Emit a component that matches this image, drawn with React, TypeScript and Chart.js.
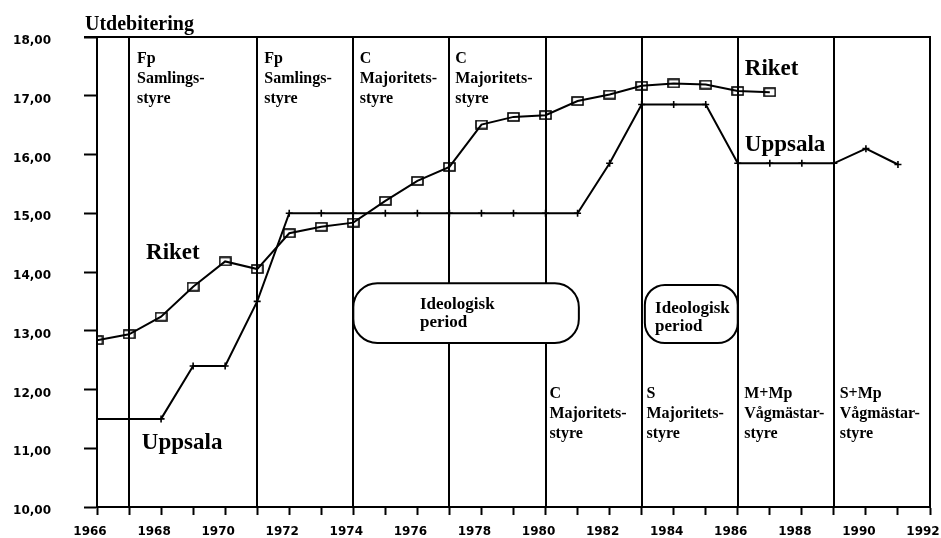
import React, { useEffect, useRef } from 'react';
import { Chart, registerables } from 'chart.js';

Chart.register(...registerables);

// ---- Data ----
const riketYears = [1966, 1967, 1968, 1969, 1970, 1971, 1972, 1973, 1974, 1975, 1976, 1977, 1978, 1979, 1980, 1981, 1982, 1983, 1984, 1985, 1986, 1987];
const riketValues = [12.84, 12.94, 13.24, 13.75, 14.18, 14.05, 14.66, 14.77, 14.84, 15.21, 15.55, 15.79, 16.51, 16.64, 16.67, 16.91, 17.02, 17.17, 17.21, 17.19, 17.08, 17.06];

const uppsalaYears = [1966, 1967, 1968, 1969, 1970, 1971, 1972, 1973, 1974, 1975, 1976, 1977, 1978, 1979, 1980, 1981, 1982, 1983, 1984, 1985, 1986, 1987, 1988, 1989, 1990, 1991];
const uppsalaValues = [11.5, 11.5, 11.5, 12.4, 12.4, 13.5, 15.0, 15.0, 15.0, 15.0, 15.0, 15.0, 15.0, 15.0, 15.0, 15.0, 15.85, 16.85, 16.85, 16.85, 15.85, 15.85, 15.85, 15.85, 16.1, 15.83];

const periodBoundaries = [1967, 1971, 1974, 1977, 1980, 1983, 1986, 1989];

const yTickValues = [10, 11, 12, 13, 14, 15, 16, 17, 18];
const xLabelYears = [1966, 1968, 1970, 1972, 1974, 1976, 1978, 1980, 1982, 1984, 1986, 1988, 1990, 1992];

const periodTexts = [
  { x: 1967.25, y: 17.56, lines: ['Fp', 'Samlings-', 'styre'] },
  { x: 1971.22, y: 17.56, lines: ['Fp', 'Samlings-', 'styre'] },
  { x: 1974.2, y: 17.56, lines: ['C', 'Majoritets-', 'styre'] },
  { x: 1977.18, y: 17.56, lines: ['C', 'Majoritets-', 'styre'] },
  { x: 1980.12, y: 11.85, lines: ['C', 'Majoritets-', 'styre'] },
  { x: 1983.15, y: 11.85, lines: ['S', 'Majoritets-', 'styre'] },
  { x: 1986.2, y: 11.85, lines: ['M+Mp', 'Vågmästar-', 'styre'] },
  { x: 1989.18, y: 11.85, lines: ['S+Mp', 'Vågmästar-', 'styre'] },
];

const seriesLabels = [
  { text: 'Riket', x: 1967.53, y: 14.22 },
  { text: 'Uppsala', x: 1967.4, y: 10.99 },
  { text: 'Riket', x: 1986.22, y: 17.35 },
  { text: 'Uppsala', x: 1986.22, y: 16.06 },
];

const ideologyBoxes = [
  { x0: 1974.0, x1: 1981.04, y0: 13.81, y1: 12.79, textX: 1976.08, textY: 13.37, radius: 24 },
  { x0: 1983.1, x1: 1986.0, y0: 13.78, y1: 12.79, textX: 1983.42, textY: 13.3, radius: 20 },
];
const ideologyLines = ['Ideologisk', 'period'];

const yTitle = 'Utdebitering';

const SERIF = '"Liberation Serif", "Times New Roman", serif';
const SANS = '"DejaVu Sans", sans-serif';

function makeSquareMarker(): HTMLCanvasElement {
  const c = document.createElement('canvas');
  c.width = 13;
  c.height = 10;
  const g = c.getContext('2d')!;
  g.strokeStyle = '#000';
  g.lineWidth = 1.6;
  g.strokeRect(1, 1, 11, 8);
  return c;
}

const overlayPlugin = {
  id: 'overlay',
  beforeDatasetsDraw(chart: any) {
    const { ctx, chartArea: a, scales } = chart;
    const x = scales.x;
    const y = scales.y;
    ctx.save();
    ctx.strokeStyle = '#000';
    ctx.lineWidth = 2;
    periodBoundaries.forEach((yr) => {
      const px = Math.round(x.getPixelForValue(yr));
      ctx.beginPath();
      ctx.moveTo(px, a.top);
      ctx.lineTo(px, a.bottom);
      ctx.stroke();
    });
    ctx.beginPath();
    ctx.moveTo(a.left - 13, a.top);
    ctx.lineTo(a.right, a.top);
    ctx.lineTo(a.right, a.bottom);
    ctx.stroke();

    ideologyBoxes.forEach((b) => {
      const l = x.getPixelForValue(b.x0);
      const r = x.getPixelForValue(b.x1);
      const t = y.getPixelForValue(b.y0);
      const bt = y.getPixelForValue(b.y1);
      ctx.beginPath();
      ctx.roundRect(l, t, r - l, bt - t, b.radius);
      ctx.fillStyle = '#fff';
      ctx.fill();
      ctx.lineWidth = 2;
      ctx.stroke();
      ctx.fillStyle = '#000';
      ctx.font = `bold 17px ${SERIF}`;
      ctx.textAlign = 'left';
      ctx.textBaseline = 'alphabetic';
      const tx = x.getPixelForValue(b.textX);
      const ty = y.getPixelForValue(b.textY);
      ideologyLines.forEach((ln, i) => ctx.fillText(ln, tx, ty + i * 18));
    });
    ctx.restore();
  },
  afterDraw(chart: any) {
    const { ctx, chartArea: a, scales } = chart;
    const x = scales.x;
    const y = scales.y;
    ctx.save();
    ctx.fillStyle = '#000';
    ctx.textAlign = 'left';
    ctx.textBaseline = 'alphabetic';

    ctx.font = `bold 16px ${SERIF}`;
    periodTexts.forEach((p) => {
      const px = x.getPixelForValue(p.x);
      const py = y.getPixelForValue(p.y);
      p.lines.forEach((ln, i) => ctx.fillText(ln, px, py + i * 20));
    });

    ctx.font = `bold 23px ${SERIF}`;
    seriesLabels.forEach((s) => {
      ctx.fillText(s.text, x.getPixelForValue(s.x), y.getPixelForValue(s.y));
    });

    ctx.font = `bold 20px ${SERIF}`;
    ctx.fillText(yTitle, a.left - 12, a.top - 7);
    ctx.restore();
  },
};

export default function App() {
  const ref = useRef<HTMLCanvasElement | null>(null);

  useEffect(() => {
    if (!ref.current) return;
    const marker = makeSquareMarker();
    const chart = new Chart(ref.current, {
      type: 'line',
      data: {
        datasets: [
          {
            label: 'Riket',
            data: riketYears.map((yr, i) => ({ x: yr, y: riketValues[i] })),
            borderColor: '#000',
            borderWidth: 2,
            pointStyle: marker as any,
            pointRadius: 5,
            pointBorderColor: '#000',
            pointBackgroundColor: 'rgba(0,0,0,0)',
            tension: 0,
          },
          {
            label: 'Uppsala',
            data: uppsalaYears.map((yr, i) => ({ x: yr, y: uppsalaValues[i] })),
            borderColor: '#000',
            borderWidth: 2,
            pointStyle: 'cross',
            pointRadius: 3.5,
            pointBorderWidth: 1.6,
            pointBorderColor: '#000',
            tension: 0,
          },
        ],
      },
      options: {
        animation: false,
        responsive: false,
        maintainAspectRatio: false,
        devicePixelRatio: 1,
        layout: { padding: { left: 0, right: 11, top: 37, bottom: 0 } },
        plugins: {
          legend: { display: false },
          tooltip: { enabled: false },
        },
        scales: {
          x: {
            type: 'linear',
            min: 1966,
            max: 1992,
            afterBuildTicks: (scale: any) => {
              const t = [];
              for (let v = 1966; v <= 1992; v++) t.push({ value: v });
              scale.ticks = t;
            },
            ticks: {
              autoSkip: false,
              maxRotation: 0,
              minRotation: 0,
              padding: 10,
              labelOffset: -7,
              color: '#000',
              font: { family: SANS, weight: 'bold', size: 12 },
              callback: (v: any) => (xLabelYears.includes(Number(v)) ? String(v) : ''),
            },
            grid: {
              drawOnChartArea: false,
              drawTicks: true,
              tickLength: 8,
              tickColor: '#000',
              tickWidth: 2,
            },
            border: { display: true, color: '#000', width: 2 },
            afterFit: (scale: any) => {
              scale.height = 31;
              scale.paddingLeft = 0;
              scale.paddingRight = 0;
            },
          },
          y: {
            type: 'linear',
            min: 10,
            max: 18,
            afterBuildTicks: (scale: any) => {
              scale.ticks = yTickValues.map((v) => ({ value: v }));
            },
            ticks: {
              padding: 33,
              labelOffset: 4,
              color: '#000',
              font: { family: SANS, weight: 'bold', size: 12 },
              callback: (v: any) => Number(v).toFixed(2).replace('.', ','),
            },
            grid: {
              drawOnChartArea: false,
              drawTicks: true,
              tickLength: 13,
              tickColor: '#000',
              tickWidth: 2,
            },
            border: { display: true, color: '#000', width: 2 },
            afterFit: (scale: any) => {
              scale.width = 97;
              scale.paddingTop = 0;
              scale.paddingBottom = 0;
            },
          },
        },
      },
      plugins: [overlayPlugin],
    } as any);
    return () => chart.destroy();
  }, []);

  return (
    <div style={{ position: 'fixed', left: 0, top: 0, width: 941, height: 538, background: '#fff' }}>
      <canvas ref={ref} width={941} height={538} style={{ display: 'block', width: 941, height: 538 }} />
    </div>
  );
}
